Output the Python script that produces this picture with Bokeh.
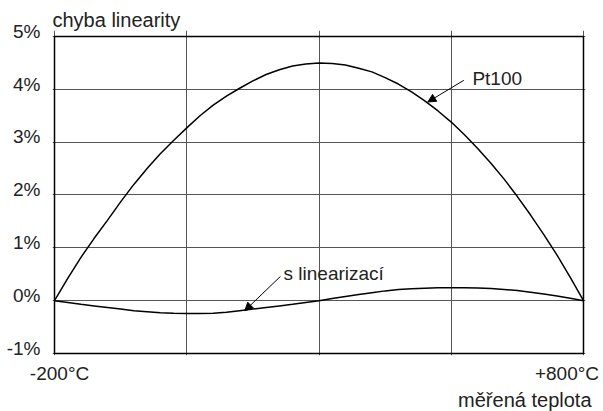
from bokeh.plotting import figure
from bokeh.models import Label, Arrow, NormalHead, Range1d, FixedTicker, Title, BoxAnnotation
from bokeh.embed import file_html
from bokeh.resources import INLINE

# data (temperature in °C, linearity error in %)
temps = [-200, -175, -150, -125, -100, -75, -50, -25, 0, 25, 50, 75, 100,
         125, 150, 175, 200, 225, 250, 275, 300, 325, 350, 375, 400, 425,
         450, 475, 500, 525, 550, 575, 600, 625, 650, 675, 700, 725, 750,
         775, 800]
pt100 = [0, 0.42, 0.82, 1.18, 1.52, 1.87, 2.2, 2.5, 2.78, 3.03, 3.27, 3.5,
         3.7, 3.87, 4.02, 4.16, 4.28, 4.37, 4.44, 4.48, 4.5, 4.49, 4.46,
         4.4, 4.33, 4.22, 4.1, 3.95, 3.78, 3.59, 3.38, 3.14, 2.88, 2.6, 2.3,
         1.97, 1.62, 1.25, 0.86, 0.44, 0]
s_lin = [0, -0.035, -0.07, -0.1, -0.13, -0.16, -0.19, -0.21, -0.23, -0.24,
         -0.245, -0.245, -0.24, -0.22, -0.19, -0.16, -0.13, -0.1, -0.07,
         -0.035, 0, 0.04, 0.08, 0.115, 0.15, 0.185, 0.21, 0.225, 0.235,
         0.243, 0.245, 0.244, 0.24, 0.228, 0.21, 0.19, 0.16, 0.125, 0.09,
         0.045, 0]
X_MIN, X_MAX = -200, 800
Y_MIN, Y_MAX = -1, 5
x_grid = [-200, 50, 300, 550, 800]
y_grid = [-1, 0, 1, 2, 3, 4, 5]
# tick labels sit slightly above their grid lines
y_label_pos = [-0.9, 0.1, 1.1, 2.1, 3.1, 4.1, 5.1]
y_labels = {pos: f"{v}%" for pos, v in zip(y_label_pos, y_grid)}
x_label_pos = [-190.5, 768.8]
x_labels = {-190.5: "-200°C", 768.8: "+800°C"}

FONT = "Liberation Sans"
FS = "19px"
FS_T = "20px"
TXT = "#222222"

# small padding around the drawn box so its border is not clipped
p = figure(width=603, height=411, output_backend="svg", toolbar_location=None,
           x_range=Range1d(-203.8, 803.8), y_range=Range1d(-1.038, 5.113),
           min_border_left=52, min_border_top=30, min_border_right=18,
           min_border_bottom=55)
p.background_fill_color = "white"
p.border_fill_color = "white"
p.outline_line_color = None

p.xgrid.ticker = FixedTicker(ticks=x_grid)
p.ygrid.ticker = FixedTicker(ticks=y_grid)
p.xgrid.bounds = (Y_MIN, Y_MAX)
p.ygrid.bounds = (X_MIN, X_MAX)
for g in (p.xgrid, p.ygrid):
    g.grid_line_color = "#555555"
    g.grid_line_width = 1

p.add_layout(BoxAnnotation(left=X_MIN, right=X_MAX, bottom=Y_MIN, top=Y_MAX,
                           fill_alpha=0, line_color="black", line_width=1.5,
                           line_alpha=1))

ya = p.yaxis[0]
ya.ticker = FixedTicker(ticks=y_label_pos)
ya.major_label_overrides = y_labels
xa = p.xaxis[0]
xa.ticker = FixedTicker(ticks=x_label_pos)
xa.major_label_overrides = x_labels
for ax in (xa, ya):
    ax.axis_line_color = None
    ax.major_tick_line_color = None
    ax.minor_tick_line_color = None
    ax.major_tick_out = 0
    ax.major_tick_in = 0
    ax.major_label_text_font = FONT
    ax.major_label_text_font_size = FS
    ax.major_label_text_color = TXT
ya.major_label_standoff = 12
xa.major_label_standoff = 7

p.add_layout(Title(text="chyba linearity", align="left", text_font=FONT,
                   text_font_size=FS_T, text_font_style="normal",
                   text_color=TXT, offset=0, standoff=0), "above")
p.add_layout(Title(text="měřená teplota", align="right", text_font=FONT,
                   text_font_size=FS_T, text_font_style="normal",
                   text_color=TXT, offset=-6, standoff=1), "below")

p.line(temps, pt100, line_color="black", line_width=1.5)
p.line(temps, s_lin, line_color="black", line_width=1.5)

def lab(x, y, text):
    p.add_layout(Label(x=x, y=y, text=text, text_font=FONT, text_font_size=FS,
                       text_color=TXT, text_align="left",
                       text_baseline="alphabetic"))

lab(590, 4.2, "Pt100")
lab(233, 0.51, "s linearizací")

for (x0, y0, x1, y1) in [(573.7, 4.17, 505.7, 3.76), (227.2, 0.46, 159.7, -0.19)]:
    p.add_layout(Arrow(x_start=x0, y_start=y0, x_end=x1, y_end=y1,
                       line_color="black", line_width=1,
                       end=NormalHead(size=8, fill_color="black",
                                      line_color="black", line_width=1)))

open("out.html", "w").write(file_html(p, INLINE))
